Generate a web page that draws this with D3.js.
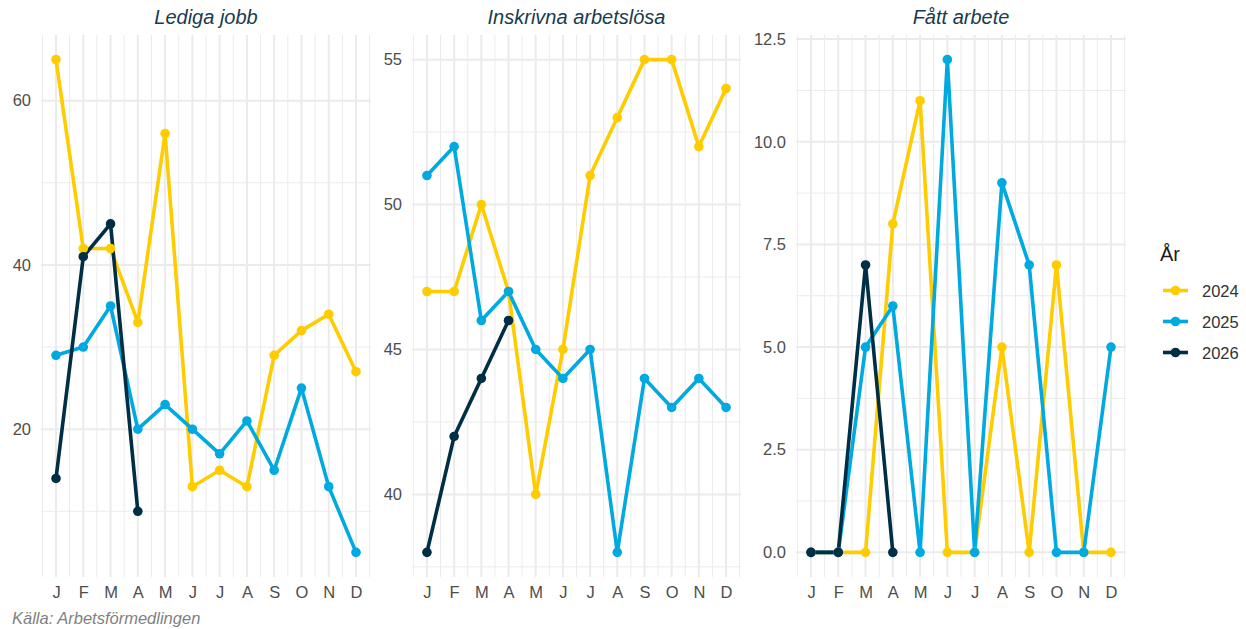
<!DOCTYPE html>
<html>
<head>
<meta charset="utf-8">
<script src="https://cdn.jsdelivr.net/npm/d3@7"></script>
<style>
  body { margin: 0; background: #fff; }
  svg { font-family: "Liberation Sans", Arial, sans-serif; }
</style>
</head>
<body>
<div class="canvas"></div>
<script>
// data
const months = ["J", "F", "M", "A", "M", "J", "J", "A", "S", "O", "N", "D"];
const years = ["2024", "2025", "2026"];
const panelTitles = ["Lediga jobb", "Inskrivna arbetslösa", "Fått arbete"];

const ledigaJobb = {
  "2024": [65, 42, 42, 33, 56, 13, 15, 13, 29, 32, 34, 27],
  "2025": [29, 30, 35, 20, 23, 20, 17, 21, 15, 25, 13, 5],
  "2026": [14, 41, 45, 10]
};
const inskrivna = {
  "2024": [47, 47, 50, 47, 40, 45, 51, 53, 55, 55, 52, 54],
  "2025": [51, 52, 46, 47, 45, 44, 45, 38, 44, 43, 44, 43],
  "2026": [38, 42, 44, 46]
};
const fattArbete = {
  "2024": [0, 0, 0, 8, 11, 0, 0, 5, 0, 7, 0, 0],
  "2025": [0, 0, 5, 6, 0, 12, 0, 9, 7, 0, 0, 5],
  "2026": [0, 0, 7, 0]
};

const yTicks = [[20, 40, 60], [40, 45, 50, 55], [0, 2.5, 5, 7.5, 10, 12.5]];
const yMinor = [[10, 30, 50], [37.5, 42.5, 47.5, 52.5], [1.25, 3.75, 6.25, 8.75, 11.25]];
const yFormat = [d3.format("d"), d3.format("d"), d3.format(".1f")];

const seriesData = [ledigaJobb, inskrivna, fattArbete];

const color = d3.scaleOrdinal().domain(years).range(["#FFCC00", "#00A9DF", "#002E44"]);

// layout
const width = 1246, height = 629;
const panels = [
  { left: 41, right: 371 },
  { left: 412, right: 741 },
  { left: 796, right: 1126 }
];
const plotTop = 35, plotBottom = 577;

const svg = d3.select(".canvas").append("svg")
  .attr("width", width)
  .attr("height", height);

panels.forEach((p, i) => {
  const data = seriesData[i];
  const all = years.flatMap(y => data[y]);
  const lo = d3.min(all), hi = d3.max(all);
  const pad = (hi - lo) * 0.05;

  const x = d3.scaleLinear().domain([0.45, 12.55]).range([p.left, p.right]);
  const y = d3.scaleLinear().domain([lo - pad, hi + pad]).range([plotBottom, plotTop]);

  const g = svg.append("g");

  // grid
  const minorX = d3.range(0.5, 12.6, 1);
  g.selectAll(".vminor").data(minorX).enter().append("line")
    .attr("x1", d => x(d)).attr("x2", d => x(d))
    .attr("y1", plotTop).attr("y2", plotBottom)
    .attr("stroke", "#ebebeb").attr("stroke-width", 1);
  g.selectAll(".hminor").data(yMinor[i]).enter().append("line")
    .attr("x1", p.left).attr("x2", p.right)
    .attr("y1", d => y(d)).attr("y2", d => y(d))
    .attr("stroke", "#ebebeb").attr("stroke-width", 1);
  g.selectAll(".vmajor").data(d3.range(1, 13)).enter().append("line")
    .attr("x1", d => x(d)).attr("x2", d => x(d))
    .attr("y1", plotTop).attr("y2", plotBottom)
    .attr("stroke", "#ebebeb").attr("stroke-width", 2);
  g.selectAll(".hmajor").data(yTicks[i]).enter().append("line")
    .attr("x1", p.left).attr("x2", p.right)
    .attr("y1", d => y(d)).attr("y2", d => y(d))
    .attr("stroke", "#ebebeb").attr("stroke-width", 2);

  // axes
  const yAxis = g.append("g")
    .attr("transform", `translate(${p.left},0)`)
    .call(d3.axisLeft(y).tickValues(yTicks[i]).tickFormat(yFormat[i]).tickSize(0).tickPadding(10));
  yAxis.select(".domain").remove();
  yAxis.selectAll("text").attr("fill", "#4d4d4d").style("font-size", "16.5px");

  const xAxis = g.append("g")
    .attr("transform", `translate(0,${plotBottom})`)
    .call(d3.axisBottom(x).tickValues(d3.range(1, 13)).tickFormat(d => months[d - 1]).tickSize(0).tickPadding(9));
  xAxis.select(".domain").remove();
  xAxis.selectAll("text").attr("fill", "#4d4d4d").style("font-size", "16.5px");

  // title
  g.append("text")
    .attr("x", (p.left + p.right) / 2)
    .attr("y", 24)
    .attr("text-anchor", "middle")
    .attr("fill", "#1a3b4d")
    .style("font-style", "italic")
    .style("font-size", "20px")
    .text(panelTitles[i]);

  const line = d3.line().x((d, j) => x(j + 1)).y(d => y(d));

  // lines first, then points (like ggplot layers)
  years.forEach(yr => {
    g.append("path")
      .datum(data[yr])
      .attr("d", line)
      .attr("fill", "none")
      .attr("stroke", color(yr))
      .attr("stroke-width", 3.6)
      .attr("stroke-linejoin", "round");
  });
  years.forEach(yr => {
    g.selectAll(null).data(data[yr]).enter().append("circle")
      .attr("cx", (d, j) => x(j + 1))
      .attr("cy", d => y(d))
      .attr("r", 4.8)
      .attr("fill", color(yr));
  });
});

// legend
const legend = svg.append("g").attr("transform", "translate(1160,0)");
legend.append("text")
  .attr("x", 0).attr("y", 261)
  .attr("fill", "#1a1a1a")
  .style("font-size", "20px")
  .text("År");
years.forEach((yr, k) => {
  const ly = 290.5 + k * 31;
  legend.append("line")
    .attr("x1", 3).attr("x2", 28)
    .attr("y1", ly).attr("y2", ly)
    .attr("stroke", color(yr)).attr("stroke-width", 3.6);
  legend.append("circle")
    .attr("cx", 15.5).attr("cy", ly).attr("r", 4.8)
    .attr("fill", color(yr));
  legend.append("text")
    .attr("x", 42).attr("y", ly + 6)
    .attr("fill", "#333")
    .style("font-size", "16.5px")
    .text(yr);
});

// caption
svg.append("text")
  .attr("x", 12).attr("y", 624)
  .attr("fill", "#7f7f7f")
  .style("font-style", "italic")
  .style("font-size", "16.5px")
  .text("Källa: Arbetsförmedlingen");
</script>
</body>
</html>
